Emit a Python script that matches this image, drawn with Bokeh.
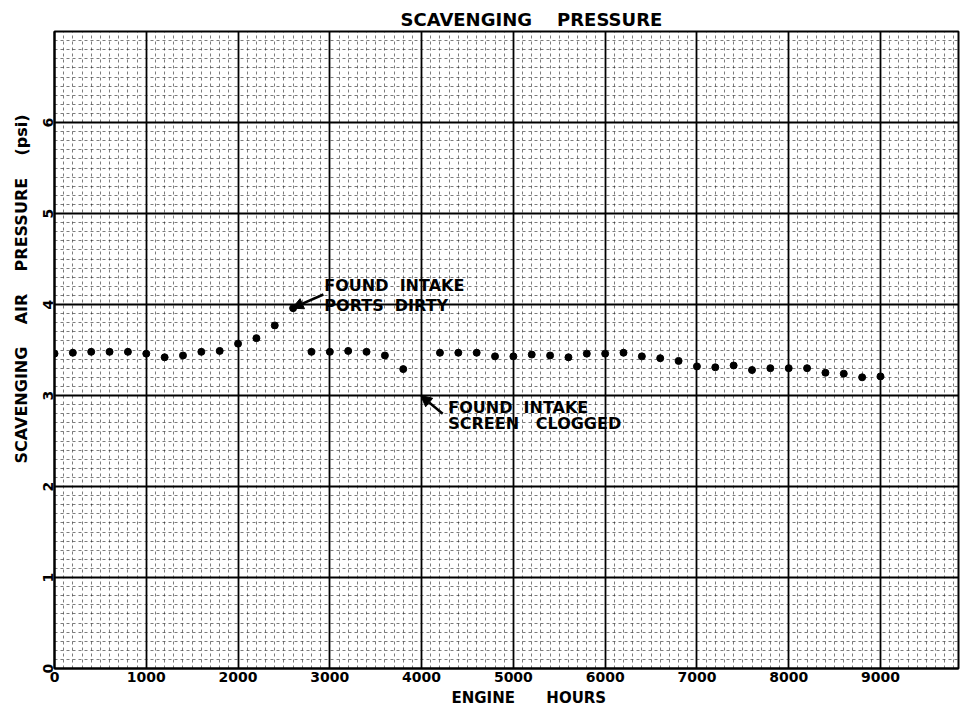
import numpy as np
from bokeh.plotting import figure
from bokeh.models import (Range1d, FixedTicker, SingleIntervalTicker, Label, Arrow, NormalHead, Title)
from bokeh.embed import file_html
from bokeh.resources import INLINE

# ---- data ----
hours = [0, 200, 400, 600, 800, 1000, 1200, 1400, 1600, 1800,
         2000, 2200, 2400, 2600, 2800, 3000, 3200, 3400, 3600, 3800,
         4200, 4400, 4600, 4800, 5000, 5200, 5400, 5600, 5800, 6000,
         6200, 6400, 6600, 6800, 7000, 7200, 7400, 7600, 7800, 8000,
         8200, 8400, 8600, 8800, 9000]
pressure = [3.46, 3.47, 3.48, 3.48, 3.48, 3.46, 3.42, 3.44, 3.48, 3.49,
            3.57, 3.63, 3.77, 3.96, 3.48, 3.48, 3.49, 3.48, 3.44, 3.29,
            3.47, 3.47, 3.47, 3.43, 3.43, 3.45, 3.44, 3.42, 3.46, 3.46,
            3.47, 3.43, 3.41, 3.38, 3.32, 3.31, 3.33, 3.28, 3.30, 3.30,
            3.30, 3.25, 3.24, 3.20, 3.21]
y_ticks = [0, 1, 2, 3, 4, 5, 6]
SP = "\u00a0"
title_text = "SCAVENGING" + SP * 4 + "PRESSURE"
x_label_text = "ENGINE" + SP * 6 + "HOURS"
y_label_text = "SCAVENGING" + SP * 4 + "AIR" + SP * 4 + "PRESSURE" + SP * 4 + "(psi)"
note1 = ["FOUND" + SP * 2 + "INTAKE", "PORTS" + SP * 2 + "DIRTY"]
note2 = ["FOUND" + SP * 2 + "INTAKE", "SCREEN" + SP * 3 + "CLOGGED"]

FONT = "DejaVu Sans"

p = figure(width=960, height=710, output_backend="svg", toolbar_location=None,
           x_range=Range1d(0, 9850), y_range=Range1d(0, 7.0),
           min_border_left=54, min_border_right=2, min_border_top=31, min_border_bottom=42)
p.background_fill_color = "white"
p.border_fill_color = "white"
p.outline_line_color = "black"
p.outline_line_width = 2

# ticks / grid
p.xaxis.ticker = SingleIntervalTicker(interval=1000, num_minor_ticks=10)
p.yaxis.ticker = FixedTicker(ticks=y_ticks, minor_ticks=list(np.round(np.arange(0, 7.01, 0.1), 2)))
for g in (p.xgrid, p.ygrid):
    g.grid_line_color = "black"
    g.grid_line_width = 1.8
    g.grid_line_alpha = 1.0
    g.minor_grid_line_color = "#111111"
    g.minor_grid_line_alpha = 0.55
    g.minor_grid_line_width = 1
    g.minor_grid_line_dash = "3 3"

for ax in (p.xaxis, p.yaxis):
    ax.axis_line_color = "black"
    ax.axis_line_width = 2
    ax.major_tick_in = 0
    ax.major_tick_out = 0
    ax.minor_tick_in = 0
    ax.minor_tick_out = 0
    ax.major_label_text_font = FONT
    ax.major_label_text_font_style = "bold"
    ax.major_label_text_font_size = "14px"
    ax.major_label_text_color = "black"
p.xaxis.major_label_standoff = 3
p.yaxis.major_label_standoff = 2
p.yaxis.major_label_orientation = "vertical"

# data points
p.scatter(hours, pressure, size=7, color="black")

# arrows
p.add_layout(Arrow(end=NormalHead(size=11, fill_color="black", line_color="black"),
                   x_start=2930, y_start=4.11, x_end=2590, y_end=3.96,
                   line_color="black", line_width=2.5))
p.add_layout(Arrow(end=NormalHead(size=11, fill_color="black", line_color="black"),
                   x_start=4230, y_start=2.80, x_end=3990, y_end=3.0,
                   line_color="black", line_width=2.5))

def lab(x, y, text, size):
    p.add_layout(Label(x=x, y=y, text=text, text_align="left",
                       text_baseline="middle", text_font=FONT, text_font_style="bold",
                       text_font_size=size, text_color="black"))

lab(2940, 4.21, note1[0], "16px")
lab(2940, 3.99, note1[1], "16px")
lab(4290, 2.87, note2[0], "16px")
lab(4290, 2.69, note2[1], "16px")

# title and axis labels
def ttl(text, place, size, offset, standoff):
    t = Title(text=text, align="left", offset=offset, standoff=standoff,
              text_font=FONT, text_font_style="bold", text_font_size=size, text_color="black")
    p.add_layout(t, place)

ttl(title_text, "above", "18px", 346, 3)
ttl(x_label_text, "below", "15px", 397, 5)
ttl(y_label_text, "left", "16px", 205, 18)

open("out.html", "w").write(file_html(p, INLINE))
